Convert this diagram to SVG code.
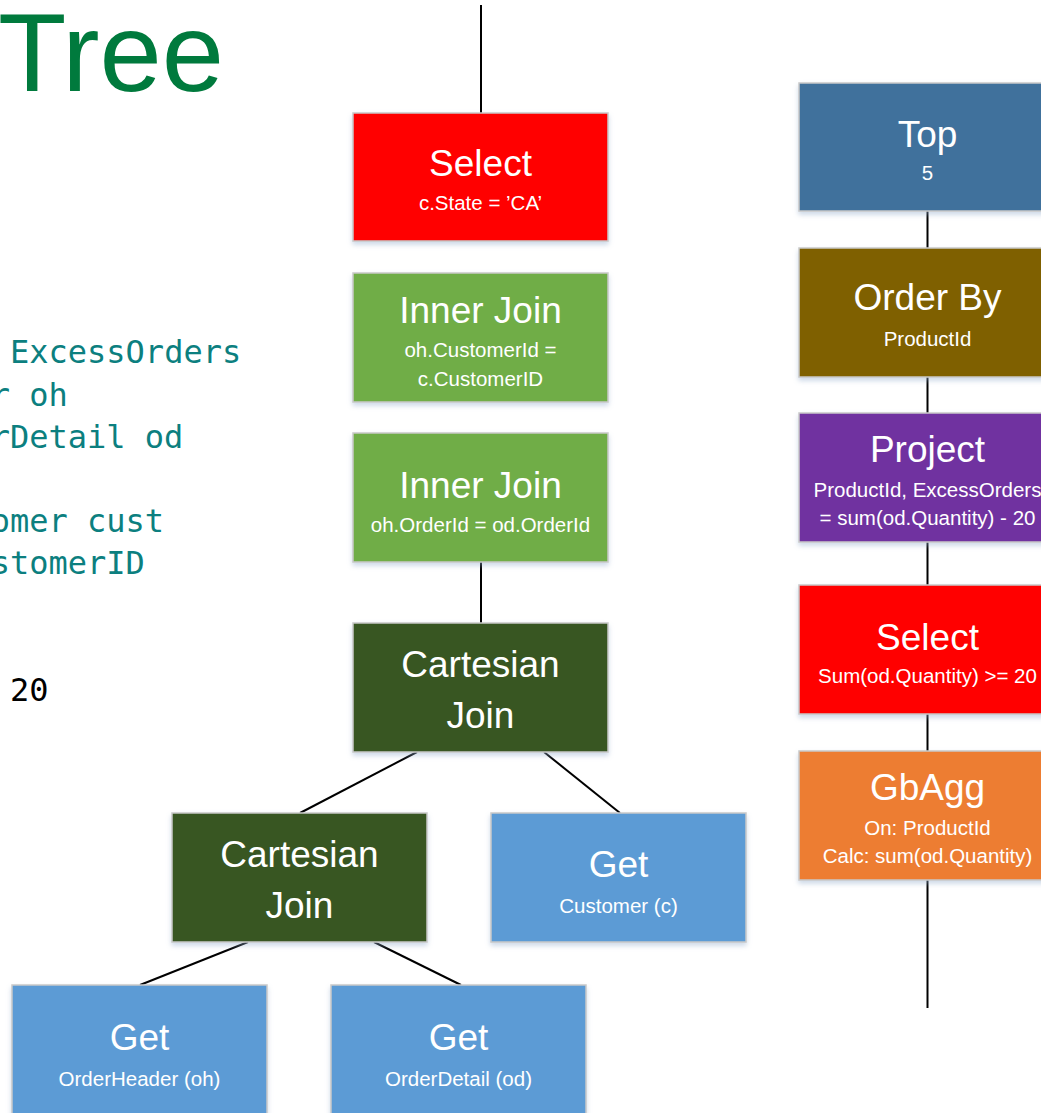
<svg xmlns="http://www.w3.org/2000/svg" width="1041" height="1113" viewBox="0 0 1041 1113">
<defs>
<filter id="sh" x="-10%" y="-10%" width="120%" height="130%">
<feDropShadow dx="0" dy="3" stdDeviation="2.5" flood-color="#8fa9cc" flood-opacity="0.45"/>
</filter>
</defs>
<style>
.box{stroke:#c9c9c9;stroke-width:1.5;filter:url(#sh)}
.hd{font-family:"Liberation Sans",Arial,sans-serif;font-size:37px;fill:#fff;text-anchor:middle}
.sb{font-family:"Liberation Sans",Arial,sans-serif;font-size:20.5px;fill:#fff;text-anchor:middle}
.code{font-family:"DejaVu Sans Mono",monospace;font-size:32px;fill:#0c7f7f}
.ln{stroke:#000;stroke-width:2;fill:none}
</style>
<rect width="1041" height="1113" fill="#fff"/>
<g id="title">
<text x="-2" y="91" font-family="'Liberation Sans',Arial,sans-serif" font-size="112" fill="#007a3d">Tree</text>
</g>
<g id="code">
<text class="code" x="10" y="363">ExcessOrders</text>
<text class="code" x="-9.3" y="405.5">r oh</text>
<text class="code" x="-9.3" y="448">rDetail od</text>
<text class="code" x="-9.3" y="532">omer cust</text>
<text class="code" x="-9.3" y="574">stomerID</text>
<text class="code" x="10" y="701" style="fill:#000">20</text>
</g>
<g id="connectors">
<line class="ln" x1="481" y1="5" x2="481" y2="113"/>
<line class="ln" x1="481" y1="562" x2="481" y2="623"/>
<line class="ln" x1="417" y1="752" x2="300" y2="813"/>
<line class="ln" x1="544" y1="752" x2="620" y2="813"/>
<line class="ln" x1="248" y1="942" x2="140" y2="985"/>
<line class="ln" x1="374" y1="942" x2="461" y2="985"/>
<line class="ln" x1="927.5" y1="211" x2="927.5" y2="248"/>
<line class="ln" x1="927.5" y1="377" x2="927.5" y2="413"/>
<line class="ln" x1="927.5" y1="542" x2="927.5" y2="585"/>
<line class="ln" x1="927.5" y1="714" x2="927.5" y2="751"/>
<line class="ln" x1="927.5" y1="880" x2="927.5" y2="1008"/>
</g>
<g id="select1">
<rect class="box" x="353" y="113" width="255" height="128" fill="#ff0000"/>
<text class="hd" x="480.5" y="176">Select</text>
<text class="sb" x="480.5" y="210">c.State = ’CA’</text>
</g>
<g id="innerjoin1">
<rect class="box" x="353" y="273" width="255" height="129" fill="#70ad47"/>
<text class="hd" x="480.5" y="323">Inner Join</text>
<text class="sb" x="480.5" y="357">oh.CustomerId =</text>
<text class="sb" x="480.5" y="386">c.CustomerID</text>
</g>
<g id="innerjoin2">
<rect class="box" x="353" y="433" width="255" height="129" fill="#70ad47"/>
<text class="hd" x="480.5" y="498">Inner Join</text>
<text class="sb" x="480.5" y="532">oh.OrderId = od.OrderId</text>
</g>
<g id="cartesian1">
<rect class="box" x="353" y="623" width="255" height="129" fill="#375623"/>
<text class="hd" x="480.5" y="677">Cartesian</text>
<text class="hd" x="480.5" y="728">Join</text>
</g>
<g id="cartesian2">
<rect class="box" x="172" y="813" width="255" height="129" fill="#375623"/>
<text class="hd" x="299.5" y="867">Cartesian</text>
<text class="hd" x="299.5" y="918">Join</text>
</g>
<g id="get-customer">
<rect class="box" x="491" y="813" width="255" height="129" fill="#5b9bd5"/>
<text class="hd" x="618.5" y="877">Get</text>
<text class="sb" x="618.5" y="913">Customer (c)</text>
</g>
<g id="get-orderheader">
<rect class="box" x="12" y="985" width="255" height="140" fill="#5b9bd5"/>
<text class="hd" x="139.5" y="1050">Get</text>
<text class="sb" x="139.5" y="1086">OrderHeader (oh)</text>
</g>
<g id="get-orderdetail">
<rect class="box" x="331" y="985" width="255" height="140" fill="#5b9bd5"/>
<text class="hd" x="458.5" y="1050">Get</text>
<text class="sb" x="458.5" y="1086">OrderDetail (od)</text>
</g>
<g id="top">
<rect class="box" x="799" y="83" width="257" height="128" fill="#41719c"/>
<text class="hd" x="927.5" y="147">Top</text>
<text class="sb" x="927.5" y="180">5</text>
</g>
<g id="orderby">
<rect class="box" x="799" y="248" width="257" height="129" fill="#7f6000"/>
<text class="hd" x="927.5" y="310">Order By</text>
<text class="sb" x="927.5" y="346">ProductId</text>
</g>
<g id="project">
<rect class="box" x="799" y="413" width="257" height="129" fill="#7030a0"/>
<text class="hd" x="927.5" y="462">Project</text>
<text class="sb" x="927.5" y="497">ProductId, ExcessOrders</text>
<text class="sb" x="927.5" y="525">= sum(od.Quantity) - 20</text>
</g>
<g id="select2">
<rect class="box" x="799" y="585" width="257" height="129" fill="#ff0000"/>
<text class="hd" x="927.5" y="650">Select</text>
<text class="sb" x="927.5" y="683">Sum(od.Quantity) &gt;= 20</text>
</g>
<g id="gbagg">
<rect class="box" x="799" y="751" width="257" height="129" fill="#ed7d31"/>
<text class="hd" x="927.5" y="800">GbAgg</text>
<text class="sb" x="927.5" y="835">On: ProductId</text>
<text class="sb" x="927.5" y="863">Calc: sum(od.Quantity)</text>
</g>
</svg>
